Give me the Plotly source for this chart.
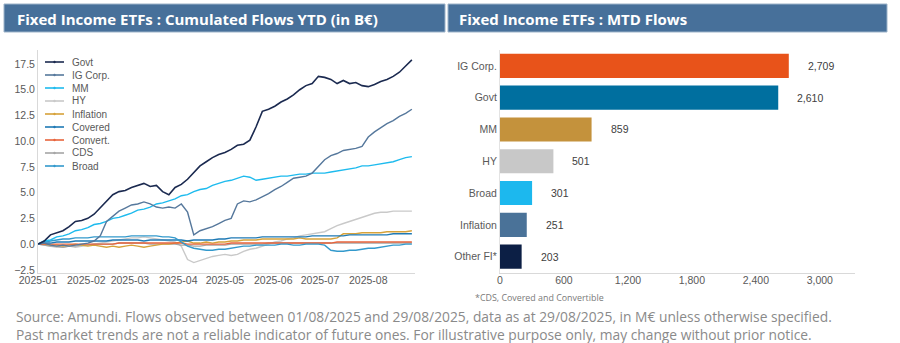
import plotly.graph_objects as go
import pandas as pd

# ---------------- data ----------------
dates = pd.date_range("2025-01-01", periods=61, freq="4D")

govt = [0.0, 0.3, 0.9, 1.1, 1.3, 1.7, 2.2, 2.3, 2.5, 2.9, 3.5, 4.1, 4.8, 5.1, 5.2, 5.5,
        5.7, 5.9, 5.6, 5.7, 5.1, 4.8, 5.5, 5.8, 6.3, 6.9, 7.6, 8.0, 8.4, 8.7, 8.9, 9.2,
        9.6, 9.7, 10.1, 11.4, 12.9, 13.1, 13.4, 13.8, 14.1, 14.5, 15.0, 15.4, 15.6, 16.3,
        16.2, 16.0, 15.6, 15.9, 15.6, 15.7, 15.4, 15.3, 15.5, 15.8, 16.0, 16.3, 16.7, 17.3, 17.9]
ig_corp = [0.0, 0.1, -0.1, -0.2, -0.1, -0.2, -0.1, 0.0, 0.1, 0.3, 0.8, 2.2, 2.7, 3.2, 3.5, 3.8,
           3.9, 4.1, 3.9, 3.6, 3.5, 3.6, 3.5, 3.9, 3.1, 0.9, 1.3, 1.5, 1.7, 2.0, 2.3, 2.5,
           3.9, 4.2, 4.1, 4.3, 4.6, 4.9, 5.3, 5.6, 6.0, 6.4, 6.5, 6.6, 6.9, 7.6,
           8.2, 8.6, 8.8, 9.1, 9.2, 9.3, 9.5, 10.4, 10.9, 11.3, 11.7, 12.0, 12.4, 12.7, 13.1]
mm = [0.0, 0.3, 0.4, 0.7, 0.8, 1.0, 1.3, 1.4, 1.6, 1.9, 2.0, 2.2, 2.5, 2.6, 2.8, 3.0,
      3.3, 3.4, 3.6, 3.9, 4.0, 4.2, 4.4, 4.7, 4.8, 5.1, 5.3, 5.4, 5.7, 5.9, 6.1, 6.2,
      6.4, 6.6, 6.5, 6.2, 6.3, 6.4, 6.5, 6.6, 6.6, 6.7, 6.8, 6.8, 6.9, 6.9,
      6.9, 7.0, 7.1, 7.2, 7.3, 7.4, 7.6, 7.6, 7.7, 7.8, 7.9, 8.0, 8.2, 8.4, 8.5]
hy = [0.0, -0.1, -0.2, -0.3, -0.3, -0.2, -0.3, -0.2, -0.1, 0.0, 0.1, 0.2, 0.3, 0.4, 0.5, 0.6,
      0.6, 0.7, 0.6, 0.5, 0.4, 0.3, 0.2, -0.2, -1.5, -1.8, -1.6, -1.4, -1.2, -1.1, -1.0, -1.1,
      -1.0, -0.7, -0.5, -0.4, -0.2, 0.0, 0.2, 0.3, 0.5, 0.6, 0.8, 0.9, 1.0, 1.1,
      1.2, 1.5, 1.8, 2.0, 2.2, 2.4, 2.6, 2.8, 3.0, 3.1, 3.1, 3.2, 3.2, 3.2, 3.2]
inflation = [0.0, 0.0, -0.1, -0.1, -0.2, -0.1, 0.0, -0.1, -0.2, -0.1, -0.2, -0.3, -0.2, -0.3, -0.2, -0.1,
             -0.2, -0.3, -0.2, -0.1, 0.0, 0.0, 0.1, 0.2, 0.3, 0.1, 0.1, 0.2, 0.1, 0.2, 0.2, 0.3,
             0.3, 0.4, 0.4, 0.4, 0.5, 0.5, 0.5, 0.5, 0.5, 0.5, 0.6, 0.5, 0.5, 0.5,
             0.5, 0.5, 0.6, 1.0, 1.0, 1.0, 1.1, 1.1, 1.1, 1.1, 1.2, 1.2, 1.2, 1.2, 1.3]
covered = [0.0, 0.1, 0.1, 0.2, 0.2, 0.2, 0.3, 0.3, 0.3, 0.3, 0.3, 0.3, 0.4, 0.4, 0.4, 0.4,
           0.4, 0.3, 0.4, 0.4, 0.4, 0.4, 0.4, 0.4, 0.3, 0.4, 0.4, 0.4, 0.4, 0.5, 0.5, 0.6,
           0.6, 0.6, 0.6, 0.6, 0.7, 0.7, 0.7, 0.7, 0.7, 0.7, 0.7, 0.7, 0.8, 0.8,
           0.8, 0.8, 0.8, 0.8, 0.9, 0.9, 0.9, 0.9, 0.9, 0.9, 0.9, 1.0, 1.0, 1.0, 1.0]
convert = [0.0, 0.0, 0.0, 0.0, 0.0, 0.0, 0.0, 0.0, 0.0, 0.0, 0.0, 0.0, 0.0, 0.1, 0.1, 0.1,
           0.1, 0.1, 0.1, 0.1, 0.1, 0.1, 0.1, 0.1, 0.0, 0.0, 0.0, 0.0, 0.0, 0.0, 0.0, 0.1,
           0.1, 0.1, 0.1, 0.1, 0.1, 0.1, 0.1, 0.1, 0.1, 0.1, 0.1, 0.1, 0.1, 0.1,
           0.1, 0.1, 0.2, 0.2, 0.2, 0.2, 0.2, 0.2, 0.2, 0.2, 0.2, 0.2, 0.2, 0.2, 0.2]
cds = [0.0, -0.1, -0.2, -0.2, -0.3, -0.2, -0.2, -0.1, -0.1, 0.0, 0.0, 0.0, 0.0, 0.1, 0.1, 0.1,
       0.1, 0.1, 0.0, 0.0, 0.0, 0.0, 0.0, -0.1, -0.1, -0.2, -0.2, -0.1, -0.1, -0.1, -0.1, 0.0,
       0.0, 0.0, 0.0, 0.0, 0.0, 0.1, 0.1, 0.1, 0.1, 0.1, 0.1, 0.1, 0.1, 0.1,
       0.1, 0.1, 0.1, 0.1, 0.1, 0.1, 0.1, 0.1, 0.1, 0.1, 0.1, 0.1, 0.1, 0.1, 0.1]
broad = [0.0, 0.2, 0.3, 0.4, 0.5, 0.5, 0.6, 0.6, 0.6, 0.7, 0.7, 0.7, 0.7, 0.7, 0.7, 0.8,
         0.8, 0.8, 0.8, 0.8, 0.7, 0.7, 0.6, 0.2, -0.2, -0.4, -0.5, -0.6, -0.6, -0.5, -0.5, -0.4,
         -0.3, -0.2, -0.2, -0.1, -0.1, -0.1, -0.1, 0.0, 0.0, -0.1, -0.1, 0.0, 0.0, 0.0,
         -0.1, -0.6, -0.7, -0.7, -0.6, -0.6, -0.5, -0.4, -0.4, -0.3, -0.2, -0.1, -0.1, 0.0, 0.0]

line_names = ["Govt", "IG Corp.", "MM", "HY", "Inflation", "Covered", "Convert.", "CDS", "Broad"]
line_values = [govt, ig_corp, mm, hy, inflation, covered, convert, cds, broad]
line_colors = ["#1b2a50", "#56789c", "#1ebbee", "#c9c9c9", "#d6a23a",
               "#1f7ab5", "#e8643c", "#a6a6a6", "#3399cc"]

bar_categories = ["IG Corp.", "Govt", "MM", "HY", "Broad", "Inflation", "Other FI*"]
bar_values = [2709, 2610, 859, 501, 301, 251, 203]
bar_colors = ["#e8531a", "#006f9f", "#c4923c", "#c8c8c8", "#1cb8ee", "#4a7298", "#0c1f45"]
bar_ticks = [0, 600, 1200, 1800, 2400, 3000]
y_ticks = [-2.5, 0, 2.5, 5, 7.5, 10, 12.5, 15, 17.5]

W, H = 900, 343
def px(x):
    return x / W
def py(y):
    return 1 - y / H

fig = go.Figure()

# line traces (draw small series first so main lines sit on top)
order = [3, 7, 4, 6, 5, 8, 2, 1, 0]
for i in order:
    fig.add_trace(go.Scatter(
        x=dates, y=line_values[i], name=line_names[i], mode="lines",
        line=dict(color=line_colors[i], width=1.6 if i == 0 else 1.4),
        xaxis="x", yaxis="y", showlegend=False))

# bar trace
fig.add_trace(go.Bar(
    x=bar_values, y=bar_categories, orientation="h",
    marker=dict(color=bar_colors, line=dict(width=0)),
    xaxis="x2", yaxis="y2", showlegend=False, width=0.76))

axis_font = dict(family="Liberation Sans, Arial", size=10.5, color="#595959")

fig.update_layout(
    width=W, height=H, margin=dict(l=0, r=0, t=0, b=0, autoexpand=False),
    paper_bgcolor="white", plot_bgcolor="white",
    font=dict(family="Liberation Sans, Arial", size=10.5, color="#595959"),
    xaxis=dict(domain=[px(38), px(415)], type="date", automargin=False,
               range=["2025-01-01", "2025-08-31"],
               dtick="M1", tick0="2025-01-01", tickformat="%Y-%m",
               showgrid=False, zeroline=False, showline=True, linecolor="#d9d9d9",
               linewidth=1, ticks="", tickfont=axis_font, anchor="y", ticklabelstandoff=-2),
    yaxis=dict(domain=[py(272.5), py(50)], range=[-2.76, 18.86], automargin=False,
               tickvals=y_ticks, tickformat=".1f",
               showgrid=False, zeroline=False, showline=True, linecolor="#d9d9d9",
               linewidth=1, ticks="", tickfont=axis_font, anchor="x"),
    xaxis2=dict(domain=[px(500), px(855)], range=[0, 3330], automargin=False,
                tickvals=bar_ticks, tickformat=",",
                showgrid=False, zeroline=False, showline=True, linecolor="#d9d9d9",
                linewidth=1, ticks="", tickfont=axis_font, anchor="y2", ticklabelstandoff=-2),
    yaxis2=dict(domain=[py(272.5), py(50)], autorange="reversed", type="category",
                automargin=False,
                showgrid=False, zeroline=False, showline=True, linecolor="#e3e3e3",
                linewidth=1, ticks="", tickfont=axis_font, anchor="x2"),
    bargap=0.24,
)

shapes = []
annotations = []

# header banners
for x0, x1, title, tx in [(4, 445, "Fixed Income ETFs : Cumulated Flows YTD (in B€)", 15),
                          (448, 887, "Fixed Income ETFs : MTD Flows", 457)]:
    shapes.append(dict(type="rect", xref="paper", yref="paper",
                       x0=px(x0), x1=px(x1), y0=py(32), y1=py(4),
                       fillcolor="#47709a", line=dict(color="#9db3c9", width=1), layer="below"))
    annotations.append(dict(text=title, xref="paper", yref="paper", x=px(tx), y=py(18.5),
                            xanchor="left", yanchor="middle", showarrow=False,
                            font=dict(family="Open Sans", size=15, color="white", weight="bold")))

# manual legend (compact spacing)
for k, (name, col) in enumerate(zip(line_names, line_colors)):
    yk = 62 + 13 * k
    shapes.append(dict(type="line", xref="paper", yref="paper",
                       x0=px(45), x1=px(64), y0=py(yk), y1=py(yk),
                       line=dict(color=col, width=1.6)))
    shapes.append(dict(type="circle", xref="paper", yref="paper",
                       x0=px(53.3), x1=px(55.7), y0=py(yk + 1.2), y1=py(yk - 1.2),
                       fillcolor=col, line=dict(color=col, width=0)))
    annotations.append(dict(text=name, xref="paper", yref="paper", x=px(70), y=py(yk),
                            xanchor="left", yanchor="middle", showarrow=False,
                            font=dict(family="Liberation Sans, Arial", size=10, color="#595959")))

# bar value labels
for cat, val in zip(bar_categories, bar_values):
    annotations.append(dict(text=f"{val:,}", x=val, y=cat, xref="x2", yref="y2",
                            xanchor="left", yanchor="middle", xshift=17, showarrow=False,
                            font=dict(family="Liberation Sans, Arial", size=10.5, color="#404040")))

# footnote and source
annotations.append(dict(text="*CDS, Covered and Convertible", xref="paper", yref="paper",
                        x=px(539), y=py(297), xanchor="center", yanchor="middle", showarrow=False,
                        font=dict(family="Open Sans", size=8.9, color="#7a7a7a")))
annotations.append(dict(text="Source: Amundi. Flows observed between 01/08/2025 and 29/08/2025, data as at 29/08/2025, in M€ unless otherwise specified."
                             "<br>Past market trends are not a reliable indicator of future ones. For illustrative purpose only, may change without prior notice.",
                        xref="paper", yref="paper", x=px(15), y=py(325.5), xanchor="left", yanchor="middle",
                        align="left", showarrow=False, borderpad=0,
                        font=dict(family="Open Sans", size=13.8, color="#8a8a8a")))

fig.update_layout(shapes=shapes, annotations=annotations)
fig.write_html("out.html")
